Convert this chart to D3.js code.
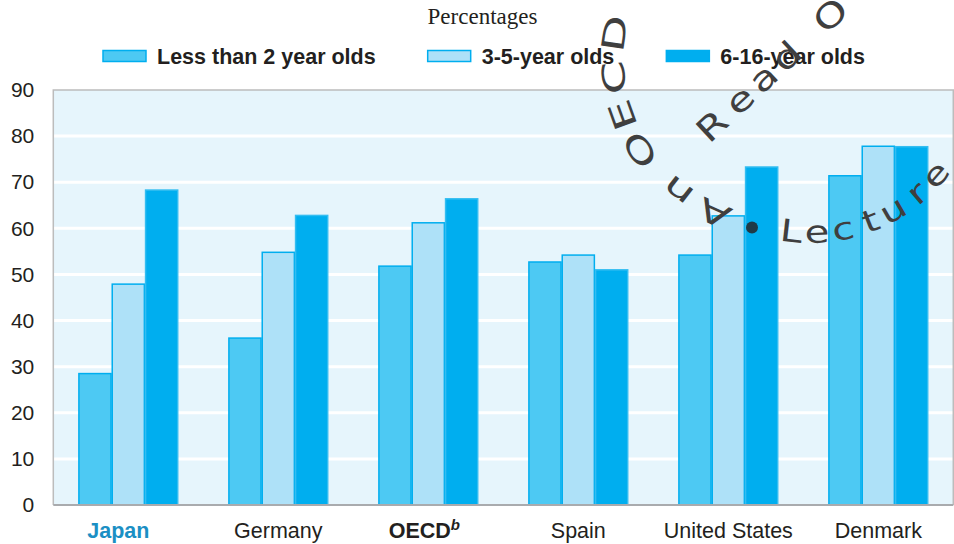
<!DOCTYPE html>
<html>
<head>
<meta charset="utf-8">
<script src="https://cdn.jsdelivr.net/npm/d3@7"></script>
<style>
  html, body { margin: 0; padding: 0; background: #ffffff; }
  svg { display: block; }
</style>
</head>
<body>
<svg id="chart" width="954" height="544"></svg>
<script>
// ---------- DATA ----------
const categories = ["Japan", "Germany", "OECD", "Spain", "United States", "Denmark"];
const seriesNames = ["Less than 2 year olds", "3-5-year olds", "6-16-year olds"];
const lessThan2 = [28.5, 36.2, 51.8, 52.7, 54.2, 71.4];
const age3to5   = [47.9, 54.8, 61.2, 54.2, 62.7, 77.8];
const age6to16  = [68.3, 62.8, 66.4, 51.0, 73.3, 77.7];
const yTicks = [0, 10, 20, 30, 40, 50, 60, 70, 80, 90];
const title = "Percentages";

// ---------- STYLE ----------
const fills   = ["#4dc9f3", "#aee1f8", "#00aeef"];
const strokes = ["#00aeef", "#00aeef", "#33bdf1"];
const textCol = "#231f20";

const svg = d3.select("#chart");
const margin = { left: 53.3, right: 0.7, top: 90, bottom: 39 };
const W = 954, H = 544;

const x = d3.scaleBand()
  .domain(categories)
  .range([margin.left, W - margin.right])
  .paddingInner(1 / 3)
  .paddingOuter(1 / 6);
const xs = d3.scaleBand().domain(d3.range(seriesNames.length)).range([0, x.bandwidth()]);
const y = d3.scaleLinear().domain([0, 90]).range([H - margin.bottom, margin.top]);

const series = [lessThan2, age3to5, age6to16];

// plot background
svg.append("rect")
  .attr("x", margin.left).attr("y", y(90))
  .attr("width", W - margin.right - margin.left)
  .attr("height", y(0) - y(90))
  .attr("fill", "#e6f5fc");

// gridlines
svg.append("g").selectAll("line")
  .data(yTicks.filter(d => d > 0 && d < 90))
  .join("line")
  .attr("x1", margin.left).attr("x2", W - margin.right)
  .attr("y1", d => y(d)).attr("y2", d => y(d))
  .attr("stroke", "#ffffff").attr("stroke-width", 3);

// frame
svg.append("path")
  .attr("d", `M${margin.left},${y(0)}V${y(90)}H${W - margin.right}V${y(0)}`)
  .attr("fill", "none").attr("stroke", "#bcbcbc").attr("stroke-width", 1.5);

// bars
const groups = svg.append("g").selectAll("g")
  .data(categories)
  .join("g")
  .attr("transform", d => `translate(${x(d)},0)`);

groups.selectAll("rect")
  .data((c, i) => series.map((s, k) => ({ k, v: s[i] })))
  .join("rect")
  .attr("x", d => xs(d.k) + 0.6)
  .attr("width", xs.bandwidth() - 1.2)
  .attr("y", d => y(d.v))
  .attr("height", d => y(0) - y(d.v))
  .attr("fill", d => fills[d.k])
  .attr("stroke", d => strokes[d.k])
  .attr("stroke-width", 1.5);

// bottom axis line
svg.append("line")
  .attr("x1", margin.left).attr("x2", W - margin.right)
  .attr("y1", y(0)).attr("y2", y(0))
  .attr("stroke", "#a9abae").attr("stroke-width", 2);

// y axis
const yAxis = svg.append("g")
  .attr("transform", `translate(${margin.left},0)`)
  .call(d3.axisLeft(y).tickValues(yTicks).tickSize(0).tickPadding(19));
yAxis.select(".domain").remove();
yAxis.selectAll("text")
  .attr("font-family", "Liberation Sans, Arial, sans-serif")
  .attr("font-size", 21).attr("fill", textCol);

// x axis
const xAxis = svg.append("g")
  .attr("transform", `translate(0,${y(0)})`)
  .call(d3.axisBottom(x).tickSize(0).tickPadding(17.5));
xAxis.select(".domain").remove();
xAxis.selectAll("text")
  .attr("font-family", "Liberation Sans, Arial, sans-serif")
  .attr("font-size", 21.5).attr("fill", textCol);
xAxis.selectAll(".tick text").filter(d => d === "Japan")
  .attr("font-weight", "bold").attr("fill", "#1b8fc4").attr("dx", -10);
xAxis.selectAll(".tick text").filter(d => d === "OECD")
  .attr("font-weight", "bold")
  .attr("dx", -4)
  .each(function () {
    const t = d3.select(this);
    t.append("tspan")
      .attr("font-size", 15).attr("font-style", "italic")
      .attr("dy", "-0.55em").text("b");
  });

// title
svg.append("text")
  .attr("x", 482.5).attr("y", 24)
  .attr("text-anchor", "middle")
  .attr("font-family", "Liberation Serif, Times New Roman, serif")
  .attr("font-size", 23).attr("fill", textCol)
  .text(title);

// legend
const legend = svg.append("g");
let lx = 103;
seriesNames.forEach((name, k) => {
  legend.append("rect")
    .attr("x", lx).attr("y", 50.5).attr("width", 43).attr("height", 11)
    .attr("fill", fills[k]).attr("stroke", "#00aeef").attr("stroke-width", 1.5);
  const t = legend.append("text")
    .attr("x", lx + 54).attr("y", 63.5)
    .attr("font-family", "Liberation Sans, Arial, sans-serif")
    .attr("font-weight", "bold").attr("font-size", 21.5).attr("fill", textCol)
    .text(name);
  lx += 54 + t.node().getComputedTextLength() + 52;
});

// ---------- watermark (decoration) ----------
const wm = svg.append("g")
  .attr("font-family", "DejaVu Sans, Verdana, sans-serif")
  .attr("fill", "#3f3f3f");
const rad = Math.PI / 180;
// "An OECD" on a circle, tops outward
const arc1 = { cx: 782, cy: 58, r: 169, letters: ["A", "n", "O", "E", "C", "D"], angles: [113.6, 128, 147.1, 160.3, 173.3, 188.3] };
arc1.letters.forEach((ch, i) => {
  const a = arc1.angles[i];
  wm.append("text")
    .attr("transform", `translate(${arc1.cx + arc1.r * Math.cos(a * rad)},${arc1.cy + arc1.r * Math.sin(a * rad)}) rotate(${a + 90}) scale(1.55,1)`)
    .attr("text-anchor", "middle").attr("dominant-baseline", "central")
    .attr("font-size", 31).text(ch);
});
// "• Lecture" on a circle, tops inward
const arc2 = { cx: 810, cy: 67, r: 176, letters: ["L", "e", "c", "t", "u", "r", "e"], angles: [96.5, 87.6, 78.5, 68.5, 59.9, 49.6, 40.6] };
arc2.letters.forEach((ch, i) => {
  const a = arc2.angles[i];
  wm.append("text")
    .attr("transform", `translate(${arc2.cx + arc2.r * Math.cos(a * rad)},${arc2.cy + arc2.r * Math.sin(a * rad)}) rotate(${a - 90}) scale(1.3,1)`)
    .attr("text-anchor", "middle")
    .attr("font-size", 31).text(ch);
});
svg.append("circle").attr("cx", 752).attr("cy", 227.5).attr("r", 6).attr("fill", "#1f3a46");
// "Read O" straight
const line3 = { x0: 719.8, y0: 134.3, ang: -43, letters: ["R", "e", "a", "d", "O"], dist: [0, 38, 70, 102, 162] };
line3.letters.forEach((ch, i) => {
  const d = line3.dist[i];
  wm.append("text")
    .attr("transform", `translate(${line3.x0 + d * Math.cos(line3.ang * rad)},${line3.y0 + d * Math.sin(line3.ang * rad)}) rotate(${line3.ang}) scale(1.3,1)`)
    .attr("text-anchor", "middle")
    .attr("font-size", 33).text(ch);
});
</script>
</body>
</html>
